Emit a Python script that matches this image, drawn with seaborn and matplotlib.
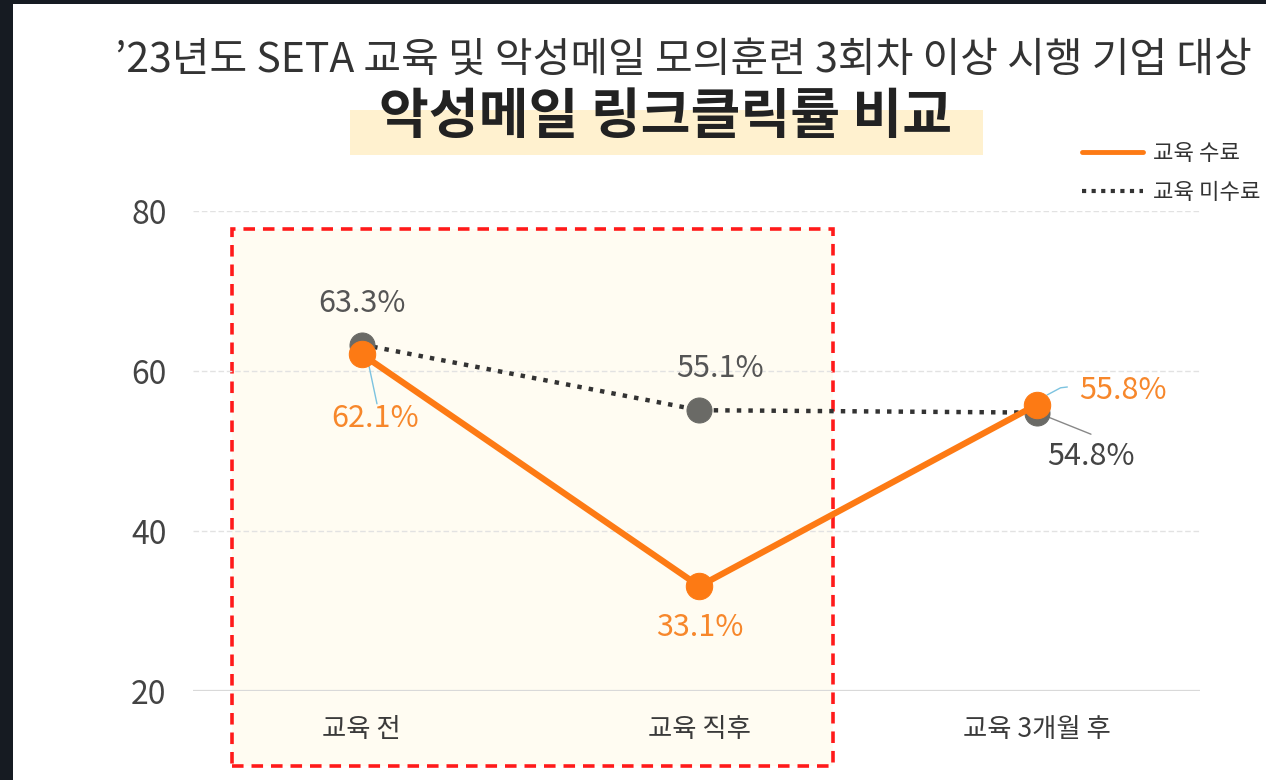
import matplotlib
matplotlib.use("Agg")
import matplotlib.pyplot as plt
import seaborn as sns
import pandas as pd
from matplotlib.patches import Rectangle
from matplotlib.lines import Line2D

# data
STAGES = ['교육 전', '교육 직후', '교육 3개월 후']
COMPLETED = [62.1, 33.1, 55.8]
NOT_COMPLETED = [63.3, 55.1, 54.8]
Y_TICKS = [20, 40, 60, 80]

TITLE = "’23년도 SETA 교육 및 악성메일 모의훈련 3회차 이상 시행 기업 대상"
SUBTITLE = "악성메일 링크클릭률 비교"

ORANGE = '#fd7a14'
ORANGE_TXT = '#f7872b'
GRAY_DOT = '#333333'
GRAY_MK = '#6a6a66'

sns.set_theme(style='white')
plt.rcParams['font.family'] = ['Noto Sans CJK KR', 'DejaVu Sans']

df = pd.DataFrame({
    'stage': STAGES * 2,
    'rate': COMPLETED + NOT_COMPLETED,
    'group': ['교육 수료'] * 3 + ['교육 미수료'] * 3,
})

fig = plt.figure(figsize=(12.66, 7.80), dpi=100, facecolor='white')
# dark screenshot frame (left and top edges)
fig.patches.append(Rectangle((0, 0), 13 / 1266, 1, transform=fig.transFigure,
                             facecolor='#161b22', edgecolor='none'))
fig.patches.append(Rectangle((0, 776 / 780), 1, 4 / 780, transform=fig.transFigure,
                             facecolor='#161b22', edgecolor='none'))

ax = fig.add_axes([193 / 1266, 89 / 780, 1007 / 1266, 480 / 780])
ax.set_facecolor('none')

# highlight box behind first two stages
ax.add_patch(Rectangle((-0.385, 10.6), 1.781, 67.15, facecolor='#fffcf2',
                       edgecolor='#ff1a1a', linestyle=(0, (3.2, 2.2)), linewidth=2.6,
                       clip_on=False, zorder=0))

for y in Y_TICKS:
    if y == 20:
        ax.axhline(y, color='#d9d9d9', linewidth=1.6, zorder=1)
    else:
        ax.axhline(y, color='#e2e2e2', linewidth=1.0, linestyle=(0, (4, 2)), zorder=1)

sns.lineplot(data=df[df.group == '교육 미수료'], x='stage', y='rate', ax=ax,
             color=GRAY_DOT, linewidth=3.2, linestyle=(0, (1, 1.6)), zorder=3,
             marker='o', markersize=18, markerfacecolor=GRAY_MK, markeredgecolor=GRAY_MK,
             legend=False)
sns.lineplot(data=df[df.group == '교육 수료'], x='stage', y='rate', ax=ax,
             color=ORANGE, linewidth=4.5, zorder=4,
             marker='o', markersize=19, markerfacecolor=ORANGE, markeredgecolor=ORANGE,
             legend=False)

ax.set_xlim(-0.5, 2.483)
ax.set_ylim(20, 80)
ax.set_yticks(Y_TICKS)
ax.set_xlabel('')
ax.set_ylabel('')
for s in ax.spines.values():
    s.set_visible(False)
ax.tick_params(axis='y', length=0, pad=19, labelsize=23, labelcolor='#444444')
ax.tick_params(axis='x', length=0, pad=18, labelsize=19, labelcolor='#3a3a3a')
for t in ax.get_xticklabels():
    t.set_fontweight('medium')

# value labels
lab_kw = dict(fontsize=22, ha='center', va='center', zorder=6)
ax.text(0, NOT_COMPLETED[0] + 5.2, f'{NOT_COMPLETED[0]}%', color='#555555', **lab_kw)
ax.text(0.04, COMPLETED[0] - 8.0, f'{COMPLETED[0]}%', color=ORANGE_TXT, **lab_kw)
ax.plot([0.02, 0.045], [COMPLETED[0] - 1.2, COMPLETED[0] - 6.2], color='#7cc3e0', lw=1, zorder=2)
ax.text(1.06, NOT_COMPLETED[1] + 5.2, f'{NOT_COMPLETED[1]}%', color='#555555', **lab_kw)
ax.text(1.0, COMPLETED[1] - 5.2, f'{COMPLETED[1]}%', color=ORANGE_TXT, **lab_kw)
ax.text(2.255, COMPLETED[2] + 1.8, f'{COMPLETED[2]}%', color=ORANGE_TXT, **lab_kw)
ax.plot([2.03, 2.07, 2.09], [COMPLETED[2] + 1.2, COMPLETED[2] + 2.1, COMPLETED[2] + 2.2],
        color='#7cc3e0', lw=1, zorder=2)
ax.text(2.16, NOT_COMPLETED[2] - 5.5, f'{NOT_COMPLETED[2]}%', color='#444444', **lab_kw)
ax.plot([2.03, 2.16], [NOT_COMPLETED[2] - 0.5, NOT_COMPLETED[2] - 2.7],
        color='#888888', lw=1, zorder=2)

# titles
fig.text(683 / 1266, 1 - 60 / 780, TITLE, fontsize=29.5, color='#333333', ha='center', va='center')
fig.patches.append(Rectangle((350 / 1266, 1 - 155 / 780), 633 / 1266, 45 / 780,
                             transform=fig.transFigure, facecolor='#fff1cf',
                             edgecolor='none'))
fig.text(666 / 1266, 1 - 118 / 780, SUBTITLE, fontsize=39, fontweight='bold',
         color='#222222', ha='center', va='center', zorder=2)

# legend
handles = [Line2D([], [], color=ORANGE, lw=3.5),
           Line2D([], [], color=GRAY_DOT, lw=3, linestyle=(0, (1, 1.3)))]
fig.legend(handles, ['교육 수료', '교육 미수료'], loc='upper left',
           bbox_to_anchor=(1062 / 1266, 1 - 122 / 780), frameon=False,
           fontsize=16, handlelength=2.75, handletextpad=0.45, labelspacing=0.7,
           labelcolor='#333333')

fig.savefig('out.png', dpi=100, facecolor=fig.get_facecolor())
